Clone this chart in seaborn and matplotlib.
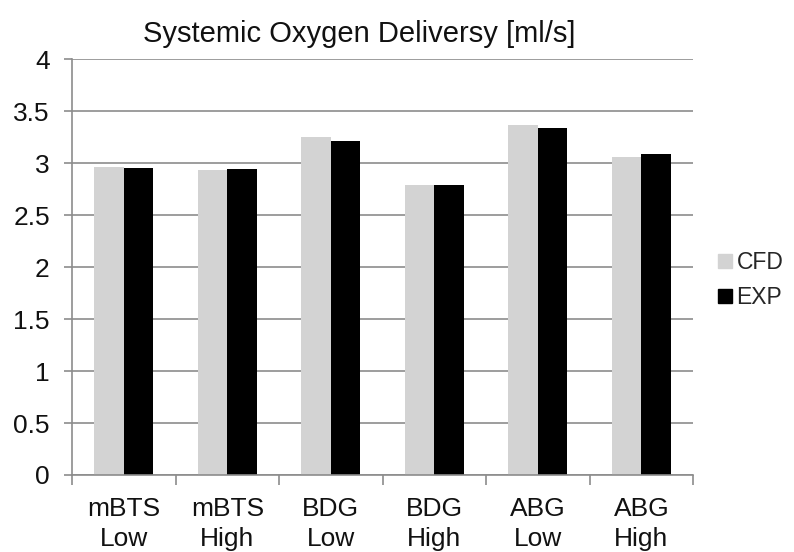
import matplotlib
matplotlib.use("Agg")
import matplotlib.pyplot as plt
import seaborn as sns
import pandas as pd
from matplotlib.ticker import FixedLocator
from matplotlib.lines import Line2D

categories = ["mBTS\nLow", "mBTS\nHigh", "BDG\nLow", "BDG\nHigh", "ABG\nLow", "ABG\nHigh"]
cfd = [2.96, 2.93, 3.25, 2.79, 3.37, 3.06]
exp = [2.955, 2.94, 3.21, 2.79, 3.34, 3.09]
series = ["CFD", "EXP"]
colors = {"CFD": "#d3d3d3", "EXP": "#000000"}
yticks = [0, 0.5, 1, 1.5, 2, 2.5, 3, 3.5, 4]
ytick_labels = ["0", "0.5", "1", "1.5", "2", "2.5", "3", "3.5", "4"]
title = "Systemic Oxygen Deliversy [ml/s]"

df = pd.DataFrame({
    "cat": categories * 2,
    "val": cfd + exp,
    "series": ["CFD"] * len(categories) + ["EXP"] * len(categories),
})

sns.set_style("white")
plt.rcParams["font.family"] = ["Liberation Sans", "DejaVu Sans"]

fig = plt.figure(figsize=(7.94, 5.52), dpi=100)
ax = fig.add_axes([0.0907, 0.1395, 0.873 - 0.0907, 0.893 - 0.1395])

sns.barplot(data=df, x="cat", y="val", hue="series", palette=colors,
            width=0.57, gap=0, ax=ax, legend=False, saturation=1,
            linewidth=0, edgecolor="none", errorbar=None)

ax.set_ylim(0, 4)
ax.set_xlim(-0.5, len(categories) - 0.5)
ax.set_yticks(yticks)
ax.set_yticklabels(ytick_labels)
ax.yaxis.grid(True, color="#8c8c8c", linewidth=1.2)
ax.set_axisbelow(True)
ax.set_xlabel("")
ax.set_ylabel("")

for s in ["top", "right"]:
    ax.spines[s].set_visible(False)
for s in ["left", "bottom"]:
    ax.spines[s].set_color("#8c8c8c")
    ax.spines[s].set_linewidth(1.2)

ax.tick_params(axis="y", which="major", left=True, length=6, width=1.2,
               color="#8c8c8c", labelsize=19, pad=10, labelcolor="#111111")
ax.tick_params(axis="x", which="major", bottom=False, length=0, labelsize=19,
               pad=16, labelcolor="#111111")
for lbl in ax.get_xticklabels():
    lbl.set_linespacing(1.3)
ax.xaxis.set_minor_locator(FixedLocator([i - 0.5 for i in range(len(categories) + 1)]))
ax.tick_params(axis="x", which="minor", bottom=True, length=7, width=1.2,
               color="#8c8c8c")

ax.set_title(title, fontsize=21, pad=12, color="#111111", x=0.462)

handles = [Line2D([0], [0], marker="s", linestyle="none", markersize=9.5,
                  markerfacecolor=colors[s], markeredgecolor=colors[s]) for s in series]
fig.legend(handles, series, loc="center left",
           bbox_to_anchor=(716 / 794, (552 - 280) / 552),
           frameon=False, fontsize=16.5, handletextpad=0.1, labelspacing=0.55,
           handlelength=0.8, borderaxespad=0, borderpad=0)

fig.savefig("out.png", dpi=100)
